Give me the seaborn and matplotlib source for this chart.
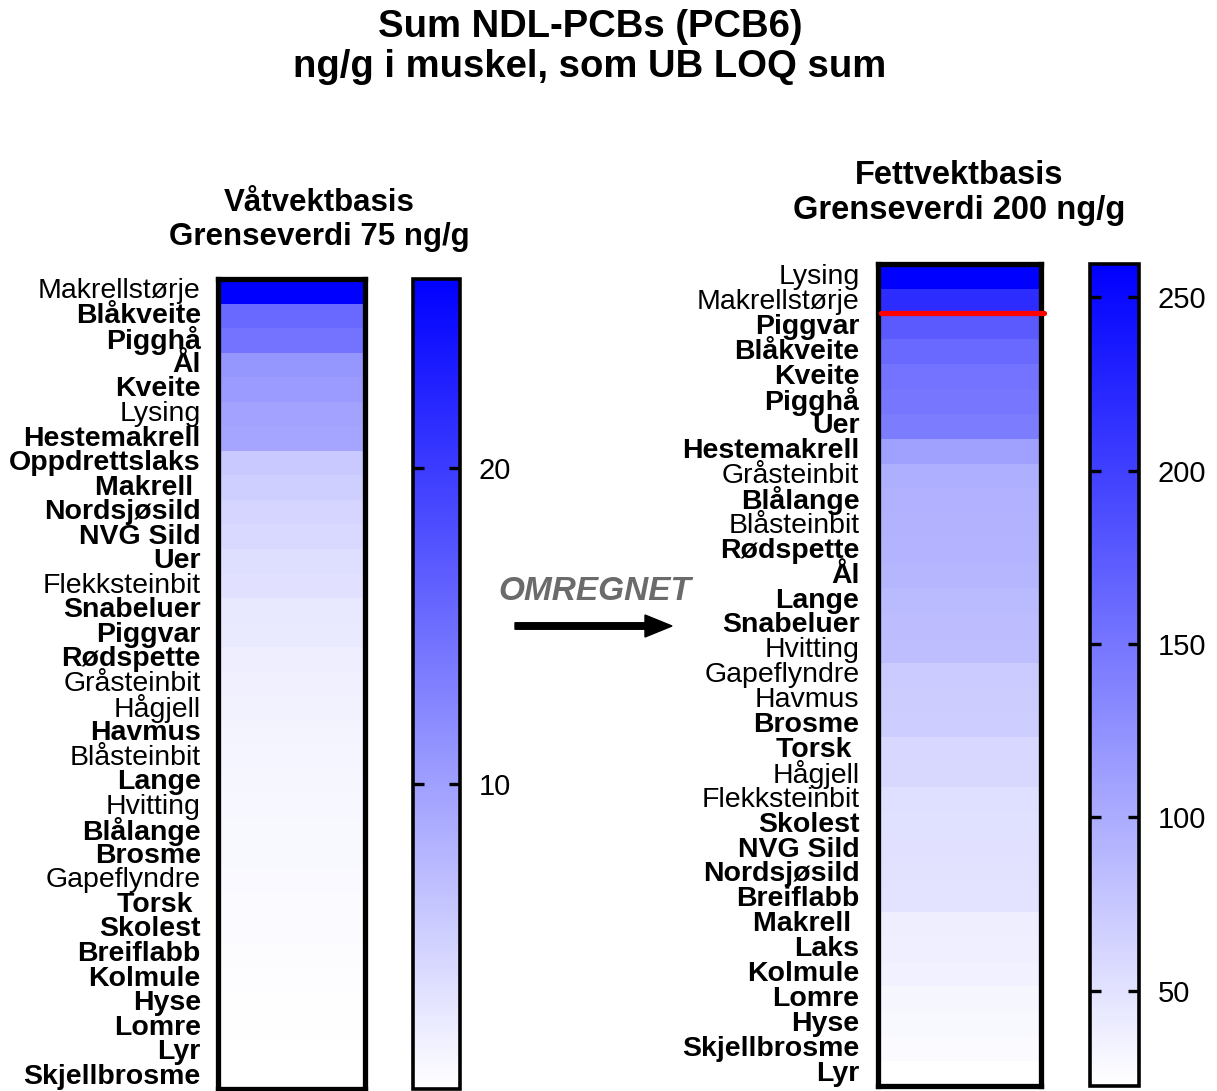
import numpy as np
import pandas as pd
import matplotlib
matplotlib.use("Agg")
import matplotlib.pyplot as plt
from matplotlib.colors import LinearSegmentedColormap
from matplotlib.patches import FancyArrow
import seaborn as sns

# ---------------- data ----------------
left_species = ["Makrellstørje", "Blåkveite", "Pigghå", "Ål", "Kveite", "Lysing",
                "Hestemakrell", "Oppdrettslaks", "Makrell ", "Nordsjøsild", "NVG Sild",
                "Uer", "Flekksteinbit", "Snabeluer", "Piggvar", "Rødspette",
                "Gråsteinbit", "Hågjell", "Havmus", "Blåsteinbit", "Lange", "Hvitting",
                "Blålange", "Brosme", "Gapeflyndre", "Torsk ", "Skolest", "Breiflabb",
                "Kolmule", "Hyse", "Lomre", "Lyr", "Skjellbrosme"]
left_values = [26.0, 15.4, 14.4, 10.9, 10.4, 9.6, 9.4, 5.8, 5.3, 4.6, 4.2,
               3.7, 3.4, 2.7, 2.5, 2.1, 1.9, 1.7, 1.5, 1.4, 1.3, 1.2,
               1.1, 1.1, 1.0, 0.9, 0.8, 0.7, 0.6, 0.5, 0.45, 0.4, 0.33]
left_bold = [False, True, True, True, True, False, True, True, True, True, True,
             True, False, True, True, True, False, False, True, False, True, False,
             True, True, False, True, True, True, True, True, True, True, True]

right_species = ["Lysing", "Makrellstørje", "Piggvar", "Blåkveite", "Kveite", "Pigghå",
                 "Uer", "Hestemakrell", "Gråsteinbit", "Blålange", "Blåsteinbit",
                 "Rødspette", "Ål", "Lange", "Snabeluer", "Hvitting", "Gapeflyndre",
                 "Havmus", "Brosme", "Torsk ", "Hågjell", "Flekksteinbit", "Skolest",
                 "NVG Sild", "Nordsjøsild", "Breiflabb", "Makrell ", "Laks", "Kolmule",
                 "Lomre", "Hyse", "Skjellbrosme", "Lyr"]
right_values = [259.5, 218, 176, 162, 153, 150, 144, 111, 97, 95, 94.5,
                93, 91, 87, 85, 83, 71, 70, 69, 60, 59, 53, 52,
                51, 50, 49, 39, 38, 36, 31, 29.5, 27.6, 22.5]
right_bold = [False, False, True, True, True, True, True, True, False, True, False,
              True, True, True, True, False, False, False, True, True, False, False, True,
              True, True, True, True, True, True, True, True, True, True]

left_ticks = [10, 20]
right_ticks = [50, 100, 150, 200, 250]
limit_fat = 200

title_lines = "Sum NDL-PCBs (PCB6)\nng/g i muskel, som UB LOQ sum"
left_title = "Våtvektbasis\nGrenseverdi 75 ng/g"
right_title = "Fettvektbasis\nGrenseverdi 200 ng/g"
arrow_text = "OMREGNET"

# ---------------- style ----------------
sns.set_style("white")
plt.rcParams["font.family"] = ["Liberation Sans", "DejaVu Sans"]
for k in ["text.color", "axes.labelcolor", "xtick.color", "ytick.color"]:
    plt.rcParams[k] = "black"

W, H = 1217, 1091
fig = plt.figure(figsize=(W / 100, H / 100), dpi=100)


def rect(x0, y0, x1, y1):
    return [x0 / W, 1 - y1 / H, (x1 - x0) / W, (y1 - y0) / H]


cmap = LinearSegmentedColormap.from_list("wb", ["#ffffff", "#0000ff"])

ax1 = fig.add_axes(rect(217.5, 279, 365, 1089))
cax1 = fig.add_axes(rect(412.5, 279, 459.5, 1089))
ax2 = fig.add_axes(rect(877.5, 264.5, 1040.5, 1086))
cax2 = fig.add_axes(rect(1090, 264.5, 1138.5, 1086))

df_left = pd.DataFrame({"v": left_values}, index=left_species)
df_right = pd.DataFrame({"v": right_values}, index=right_species)


def draw(ax, cax, df, bold, ticks, pad_lbl):
    sns.heatmap(df, ax=ax, cbar_ax=cax, cmap=cmap,
                vmin=min(df["v"]), vmax=max(df["v"]),
                xticklabels=False, yticklabels=True)
    for sp in ax.spines.values():
        sp.set_visible(True)
        sp.set_linewidth(3.8)
        sp.set_edgecolor("black")
    ax.tick_params(axis="y", length=0, pad=pad_lbl, labelsize=20.5, rotation=0,
                   labelcolor="black")
    for lbl, b in zip(ax.get_yticklabels(), bold):
        lbl.set_fontweight("bold" if b else "normal")
    cbar = ax.collections[0].colorbar
    cbar.outline.set_linewidth(2.6)
    cbar.outline.set_edgecolor("black")
    cbar.set_ticks(ticks)
    cbar.ax.set_axisbelow(False)
    cbar.ax.tick_params(axis="y", direction="in", length=8, width=2.4,
                        left=True, right=True, labelleft=False, labelright=True,
                        labelsize=21, pad=14, colors="black")
    return cbar


draw(ax1, cax1, df_left, left_bold, left_ticks, 12)
draw(ax2, cax2, df_right, right_bold, right_ticks, 13)

# limit line: boundary below species exceeding the limit
n_above = int(np.sum(np.array(right_values) > limit_fat))
ax2.axhline(n_above - 0.07, color="#ff0000", lw=3.8, xmin=0.02, xmax=1.02,
            clip_on=False, zorder=5)

# ---------------- overlay texts ----------------
ov = fig.add_axes([0, 0, 1, 1])
ov.set_xlim(0, W)
ov.set_ylim(H, 0)
ov.axis("off")
ov.patch.set_alpha(0)

ov.text(590, 47, title_lines, ha="center", va="center", fontsize=27.5,
        fontweight="bold", linespacing=1.17, color="black")
ov.text(319, 220, left_title, ha="center", va="center", fontsize=22.5,
        fontweight="bold", linespacing=1.16, color="black")
ov.text(959, 193, right_title, ha="center", va="center", fontsize=23.5,
        fontweight="bold", linespacing=1.13, color="black")
ov.text(595, 592, arrow_text, ha="center", va="center", fontsize=24,
        fontweight="bold", fontstyle="italic", color="#6b6b6b")
ov.add_patch(FancyArrow(515, 626, 157, 0, width=6.5, head_width=22,
                        head_length=27, length_includes_head=True,
                        color="black"))

fig.savefig("out.png", dpi=100)
